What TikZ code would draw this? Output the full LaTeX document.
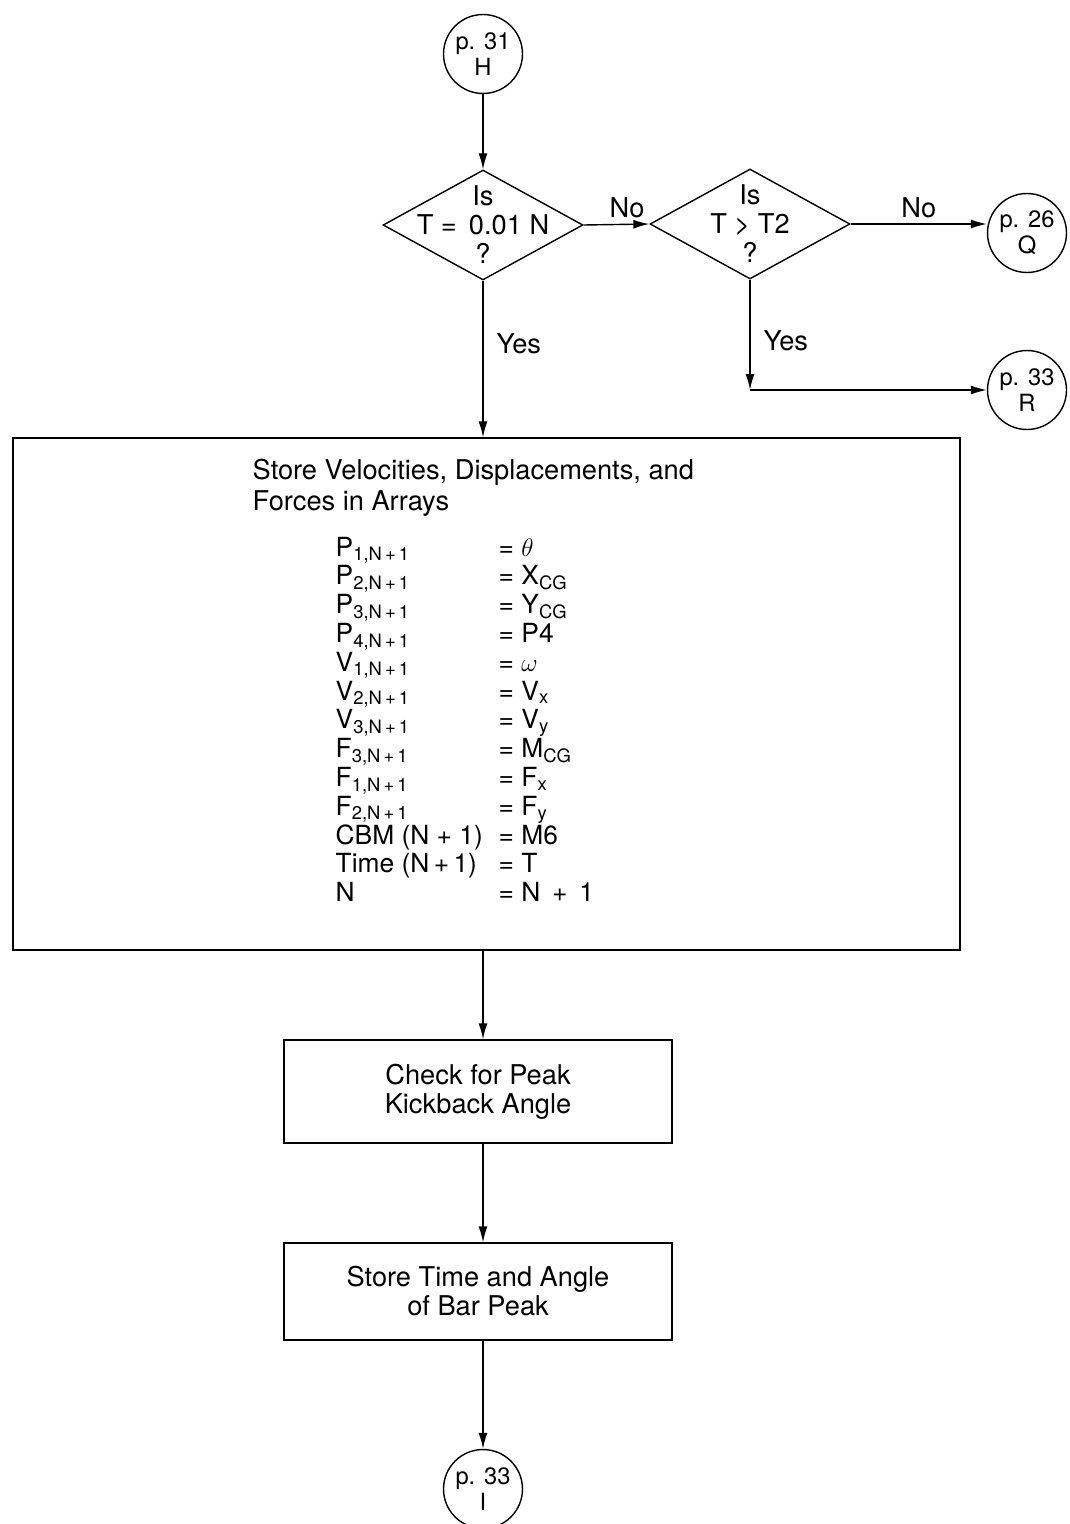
\documentclass[tikz,border=0pt]{standalone}
\usepackage{fontspec}
\setmainfont{TeX Gyre Heros}
\usetikzlibrary{shapes.geometric,arrows.meta}

\tikzset{
  every picture/.style={line width=0.8pt},
  flow/.style={-{Latex[length=3.2mm,width=1.8mm]}},
  pageconn/.style={draw,circle,minimum size=1.58cm,inner sep=0pt,align=center,font=\fontsize{13.5}{15}\selectfont},
  decision/.style={draw,diamond,minimum width=4cm,minimum height=2.2cm,inner sep=0pt},
  process/.style={draw,rectangle,inner sep=0pt,align=center},
  lbl/.style={font=\fontsize{15.5}{16.5}\selectfont},
  eqn/.style={anchor=base west,inner sep=0pt,font=\fontsize{15}{16}\selectfont}
}

\begin{document}
\begin{tikzpicture}[x=0.02cm,y=-0.02cm,lbl]
\useasboundingbox (0,0) rectangle (1070,1524);

% connectors and decisions
\node[pageconn] (h) at (483,54) {p. 31\\H};
\node[decision,label={[align=center,lbl]center:Is\\T = \,0.01 N\\?}] (d1) at (483,225) {};
\node[decision,label={[align=center,lbl]center:Is\\T > T2\\?}] (d2) at (750,224) {};
\node[pageconn] (q) at (1027,233) {p. 26\\Q};
\node[pageconn] (r) at (1027,390) {p. 33\\R};

\draw[flow] (h) -- (d1.north);
\draw[flow] (d1.east) -- node[above,xshift=6pt] {No} (d2.west);
\draw[flow] (d2.east) -- node[above] {No} (d2.east -| q.west);
\coordinate (turn) at (d2.south |- r.west);
\draw[flow] (d2.south) -- node[right,pos=0.55,xshift=4pt] {Yes} (turn);
\draw[flow] (turn) -- (r.west);

% storage block
\node[process,minimum width=18.94cm,minimum height=10.24cm] (store) at (486.5,694) {};
\draw[flow] (d1.south) -- node[right,pos=0.4,xshift=4pt] {Yes} (d1.south |- store.north);

\node[anchor=base west,inner sep=0pt] (title1) at (252,479) {Store Velocities, Displacements, and};
\node[anchor=base west,inner sep=0pt] (title2) at (252,510) {Forces in Arrays};

\foreach \i/\lhs/\rhs in {
  0/P\textsubscript{1,N\,+\,1}/$\theta$,
  1/P\textsubscript{2,N\,+\,1}/X\textsubscript{CG},
  2/P\textsubscript{3,N\,+\,1}/Y\textsubscript{CG},
  3/P\textsubscript{4,N\,+\,1}/P4,
  4/V\textsubscript{1,N\,+\,1}/$\omega$,
  5/V\textsubscript{2,N\,+\,1}/V\textsubscript{x},
  6/V\textsubscript{3,N\,+\,1}/V\textsubscript{y},
  7/F\textsubscript{3,N\,+\,1}/M\textsubscript{CG},
  8/F\textsubscript{1,N\,+\,1}/F\textsubscript{x},
  9/F\textsubscript{2,N\,+\,1}/F\textsubscript{y},
  10/CBM (N + 1)/M6,
  11/Time (N\,+\,1)/T,
  12/N/N \,+\, 1}{
  \node[eqn] (lhs\i) at (335,556+28.8*\i) {\lhs};
  \node[eqn] (rhs\i) at (498,556+28.8*\i) {= \rhs};
}

% checks
\node[process,minimum width=7.76cm,minimum height=2.06cm] (peak) at (478,1091.5)
  {Check for Peak\\Kickback Angle};
\node[process,minimum width=7.76cm,minimum height=1.94cm] (bar) at (478,1291.5)
  {Store Time and Angle\\of Bar Peak};
\node[pageconn] (i) at (483,1489) {p. 33\\I};

\draw[flow] (d1.south |- store.south) -- (d1.south |- peak.north);
\draw[flow] (d1.south |- peak.south) -- (d1.south |- bar.north);
\draw[flow] (d1.south |- bar.south) -- (i);
\end{tikzpicture}
\end{document}
